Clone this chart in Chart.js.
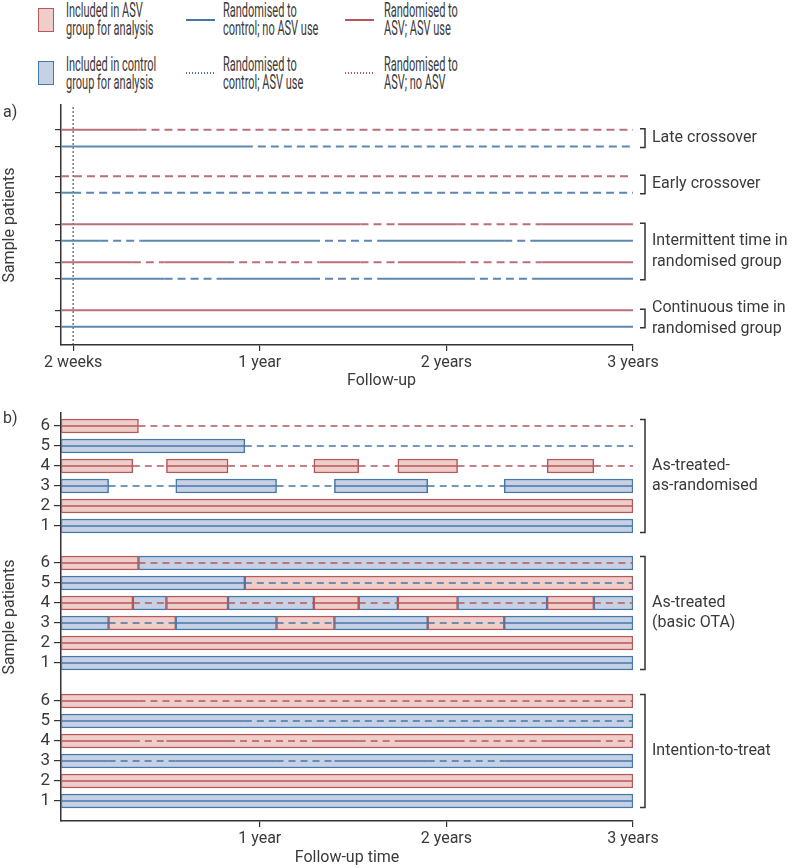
<!DOCTYPE html>
<html>
<head>
<meta charset="utf-8">
<script src="https://cdn.jsdelivr.net/npm/chart.js@4.4.1/dist/chart.umd.min.js"></script>
<style>
  body { margin: 0; background: #fff; font-family: Roboto, sans-serif; color: #3a3a3a; }
  #legend { position: absolute; left: 0; top: 0; width: 799px; height: 95px; }
  #legend .box { position: absolute; width: 14px; height: 22px; border: 1.5px solid; }
  #legend .line { position: absolute; width: 29px; height: 2px; }
  #legend .txt { position: absolute; font-size: 20px; line-height: 18px; white-space: nowrap;
                 transform: scaleX(0.55); transform-origin: left top; }
  .wrap { position: absolute; left: 0; width: 799px; }
</style>
</head>
<body>
<div id="legend"></div>
<div class="wrap" style="top:95px;height:300px"><canvas id="chartA" width="799" height="300"></canvas></div>
<div class="wrap" style="top:395px;height:473px"><canvas id="chartB" width="799" height="473"></canvas></div>
<script>
// follow-up time in years, measured from the 2 week mark
const followStart = -0.065;
const followEnd = 3;
const xTickValuesA = [0, 1, 2, 3];
const xTickLabelsA = ["2 weeks", "1 year", "2 years", "3 years"];
const xTickValuesB = [1, 2, 3];
const xTickLabelsB = ["1 year", "2 years", "3 years"];

// Panel a: sample patients (row position, randomised arm, times of switching treatment)
const rowY_A = [13, 12, 10.2, 9.2, 7.3, 6.3, 5, 4, 2.1, 1.1];
const rowArm_A = ["asv", "ctl", "asv", "ctl", "asv", "ctl", "asv", "ctl", "asv", "ctl"];
const rowSwitches_A = [
  [0.35],
  [0.92],
  [-0.065],
  [0.0],
  [1.54, 1.74, 2.06, 2.51],
  [0.145, 0.36, 1.28, 1.63, 2.31, 2.45],
  [0.32, 0.49, 0.82, 1.32, 1.54, 1.74, 2.06, 2.51],
  [0.49, 0.8, 1.28, 1.63, 2.11, 2.46],
  [],
  [],
];
const groupRows_A = [[13, 12], [10.2, 9.2], [7.3, 4], [2.1, 1.1]];
const groupLabels_A = [
  ["Late crossover"],
  ["Early crossover"],
  ["Intermittent time in", "randomised group"],
  ["Continuous time in", "randomised group"],
];

// Panel b: six sample patients shown under three analyses
const patientNo = [1, 2, 3, 4, 5, 6];
const patientArm = ["ctl", "asv", "ctl", "asv", "ctl", "asv"];
const patientSwitches = [
  [],
  [],
  [0.19, 0.55, 1.09, 1.4, 1.9, 2.31],
  [0.32, 0.5, 0.83, 1.29, 1.53, 1.74, 2.06, 2.54, 2.79],
  [0.92],
  [0.35],
];
const groupRowY_B = [
  [14.75, 15.75, 16.75, 17.75, 18.75, 19.75], // as-treated-as-randomised
  [7.9, 8.9, 9.9, 10.9, 11.9, 12.9],          // as-treated
  [1, 2, 3, 4, 5, 6],                         // intention-to-treat
];
const groupLabels_B = [["As-treated-", "as-randomised"], ["As-treated", "(basic OTA)"], ["Intention-to-treat"]];

const FONT = "Roboto, sans-serif";
const TEXT = "#3a3a3a";
const AXIS = "#333";
const lineColA = { asv: "#bb7078", ctl: "#5b87b2" };
const col = {
  asv: { line: "#b5585a", fill: "#efcdc8" },
  ctl: { line: "#4677a8", fill: "#c7d1e5" },
};
const other = { asv: "ctl", ctl: "asv" };

// legend
const legendItems = [
  { kind: "box", arm: "asv", x: 38, y: 8, tx: 66, ty: 1, text: "Included in ASV<br>group for analysis" },
  { kind: "box", arm: "ctl", x: 38, y: 61, tx: 66, ty: 55, text: "Included in control<br>group for analysis" },
  { kind: "solid", arm: "ctl", x: 186, y: 19, tx: 223, ty: 1, text: "Randomised to<br>control; no ASV use" },
  { kind: "dot", arm: "ctl", x: 186, y: 72, tx: 223, ty: 55, text: "Randomised to<br>control; ASV use" },
  { kind: "solid", arm: "asv", x: 345, y: 19, tx: 384, ty: 1, text: "Randomised to<br>ASV; ASV use" },
  { kind: "dot", arm: "asv", x: 345, y: 72, tx: 384, ty: 55, text: "Randomised to<br>ASV; no ASV" },
];
const legend = document.getElementById("legend");
legendItems.forEach((it) => {
  const m = document.createElement("div");
  m.style.left = it.x + "px";
  m.style.top = it.y + "px";
  if (it.kind === "box") {
    m.className = "box";
    m.style.borderColor = col[it.arm].line;
    m.style.background = col[it.arm].fill;
  } else {
    m.className = "line";
    const c = col[it.arm].line;
    m.style.background = it.kind === "solid" ? c
      : `repeating-linear-gradient(90deg, ${c} 0 1px, transparent 1px 3px)`;
  }
  legend.appendChild(m);
  const t = document.createElement("div");
  t.className = "txt";
  t.style.left = it.tx + "px";
  t.style.top = it.ty + "px";
  t.innerHTML = it.text;
  legend.appendChild(t);
});

// breakpoints: start, switches, end. Even segments = randomised treatment, odd = crossed over
function breakpoints(sw) {
  return [followStart, ...sw, followEnd];
}

function rowLine(sw, y, color, width, dash) {
  return {
    type: "line",
    data: breakpoints(sw).map((x) => ({ x, y })),
    borderColor: color,
    borderWidth: width,
    pointRadius: 0,
    pointHitRadius: 0,
    tension: 0,
    order: 0,
    segment: { borderDash: (ctx) => (ctx.p0DataIndex % 2 ? dash : undefined) },
  };
}

// annotations: brackets with group names, panel letter, optional x title
const annotations = {
  id: "annotations",
  afterDraw(chart, args, opts) {
    const { ctx, chartArea } = chart;
    const y = chart.scales.y;
    ctx.save();
    ctx.strokeStyle = AXIS;
    ctx.fillStyle = TEXT;
    ctx.lineWidth = 1.5;
    ctx.font = `16px ${FONT}`;
    ctx.textBaseline = "middle";
    ctx.textAlign = "left";
    const bx = chartArea.right + 12;
    opts.groups.forEach((rows, i) => {
      const top = y.getPixelForValue(Math.max(...rows)) - opts.pad;
      const bot = y.getPixelForValue(Math.min(...rows)) + opts.pad;
      ctx.beginPath();
      ctx.moveTo(bx - 5, top);
      ctx.lineTo(bx, top);
      ctx.lineTo(bx, bot);
      ctx.lineTo(bx - 5, bot);
      ctx.stroke();
      const lines = opts.labels[i];
      const mid = (top + bot) / 2;
      lines.forEach((t, j) => ctx.fillText(t, bx + 7, mid + (j - (lines.length - 1) / 2) * 20.5));
    });
    ctx.fillText(opts.panel, 3, opts.panelY);
    if (opts.xTitle) {
      ctx.fillText(opts.xTitle, (chartArea.left + chartArea.right) / 2, chartArea.bottom + 36);
    }
    ctx.restore();
  },
};

function axisOpts(extra) {
  return Object.assign({
    type: "linear",
    offset: false,
    grid: { offset: false, drawOnChartArea: false, drawTicks: true, tickLength: 6, color: AXIS, lineWidth: 1.2 },
    border: { color: AXIS, width: 1.5 },
  }, extra);
}

// ---------- Panel a ----------
const datasetsA = rowY_A.map((y, i) => rowLine(rowSwitches_A[i], y, lineColA[rowArm_A[i]], 2, [8, 5]));
datasetsA.push({
  type: "line",
  label: "2 weeks",
  data: [{ x: 0, y: 0 }, { x: 0, y: 14.5 }],
  borderColor: AXIS,
  borderWidth: 1,
  borderDash: [2, 2],
  pointRadius: 0,
});

new Chart(document.getElementById("chartA"), {
  type: "line",
  data: { datasets: datasetsA },
  options: {
    responsive: false,
    animation: false,
    layout: { padding: { top: 10, right: 166, left: 0, bottom: 0 } },
    plugins: {
      legend: { display: false },
      tooltip: { enabled: false },
      annotations: { groups: groupRows_A, labels: groupLabels_A, pad: 1, panel: "a)", panelY: 18, xTitle: "Follow-up" },
    },
    scales: {
      x: axisOpts({
        min: followStart,
        max: followEnd,
        afterBuildTicks: (s) => { s.ticks = xTickValuesA.map((v) => ({ value: v })); },
        afterFit: (s) => { s.height = 50; },
        ticks: { callback: (v, i) => xTickLabelsA[i], font: { family: FONT, size: 16 }, color: TEXT, padding: 2, maxRotation: 0, autoSkip: false },
      }),
      y: axisOpts({
        min: 0,
        max: 14.5,
        afterBuildTicks: (s) => { s.ticks = rowY_A.map((v) => ({ value: v })); },
        afterFit: (s) => { s.width = 61; },
        ticks: { display: false },
        title: { display: true, text: "Sample patients", font: { family: FONT, size: 16 }, color: TEXT, padding: 0 },
      }),
    },
  },
  plugins: [annotations],
});

// ---------- Panel b ----------
const bars = { asv: [], ctl: [] };
const linesB = [];
patientArm.forEach((arm, p) => {
  const pts = breakpoints(patientSwitches[p]);
  groupRowY_B.forEach((rows, g) => {
    const y = rows[p];
    if (g === 2) {
      bars[arm].push({ x: [followStart, followEnd], y });
    } else {
      pts.slice(1).forEach((e, k) => {
        const s = pts[k];
        const onArm = k % 2 === 0;
        if (g === 0 && !onArm) return;
        bars[onArm ? arm : other[arm]].push({ x: [s, e], y });
      });
    }
    linesB.push(rowLine(patientSwitches[p], y, col[arm].line, 1.5, [7, 5]));
  });
});

const barSet = (arm, label) => ({
  type: "bar",
  label,
  indexAxis: "y",
  data: bars[arm],
  backgroundColor: col[arm].fill,
  borderColor: col[arm].line,
  borderWidth: 1.5,
  borderSkipped: false,
  barThickness: 14,
  grouped: false,
  order: 1,
});

const yTicksB = groupRowY_B.flat();
const yTickLabelsB = groupRowY_B.flatMap(() => patientNo);

new Chart(document.getElementById("chartB"), {
  type: "bar",
  data: {
    datasets: [
      barSet("asv", "Included in ASV group for analysis"),
      barSet("ctl", "Included in control group for analysis"),
      ...linesB,
    ],
  },
  options: {
    responsive: false,
    animation: false,
    layout: { padding: { top: 18, right: 166, left: 0, bottom: 0 } },
    plugins: {
      legend: { display: false },
      tooltip: { enabled: false },
      annotations: { groups: groupRowY_B, labels: groupLabels_B, pad: 6.5, panel: "b)", panelY: 24 },
    },
    scales: {
      x: axisOpts({
        min: followStart,
        max: followEnd,
        afterBuildTicks: (s) => { s.ticks = xTickValuesB.map((v) => ({ value: v })); },
        afterFit: (s) => { s.height = 47; },
        ticks: { callback: (v, i) => xTickLabelsB[i], font: { family: FONT, size: 16 }, color: TEXT, padding: 2, maxRotation: 0, autoSkip: false },
        title: { display: true, text: "Follow-up time", font: { family: FONT, size: 16 }, color: TEXT, padding: 0 },
      }),
      y: axisOpts({
        min: 0,
        max: 20.4,
        afterBuildTicks: (s) => { s.ticks = yTicksB.map((v) => ({ value: v })); },
        afterFit: (s) => { s.width = 61; },
        grid: { offset: false, drawOnChartArea: false, drawTicks: true, tickLength: 7, color: AXIS, lineWidth: 1.2 },
        ticks: { callback: (v, i) => yTickLabelsB[i], font: { family: FONT, size: 17 }, color: TEXT, padding: 4, autoSkip: false },
        title: { display: true, text: "Sample patients", font: { family: FONT, size: 16 }, color: TEXT, padding: 0 },
      }),
    },
  },
  plugins: [annotations],
});
</script>
</body>
</html>
